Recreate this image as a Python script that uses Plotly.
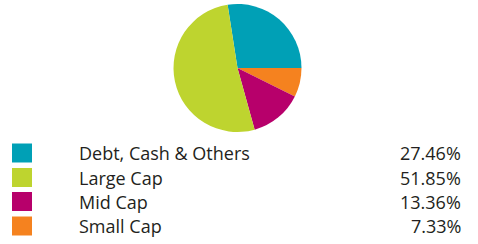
import plotly.graph_objects as go

categories = ["Debt, Cash & Others", "Large Cap", "Mid Cap", "Small Cap"]
values = [27.46, 51.85, 13.36, 7.33]
colors = ["#00A0B6", "#BED42F", "#B7006B", "#F5821F"]
value_labels = ["27.46%", "51.85%", "13.36%", "7.33%"]

# pie drawing order (clockwise from top)
pie_order = [0, 3, 2, 1]

W, H = 478, 244
fig = go.Figure()
fig.add_trace(go.Pie(
    labels=[categories[i] for i in pie_order],
    values=[values[i] for i in pie_order],
    marker=dict(colors=[colors[i] for i in pie_order], line=dict(width=0)),
    sort=False,
    direction="clockwise",
    rotation=-8.9,
    textinfo="none",
    hoverinfo="label+percent",
    domain=dict(x=[173.5 / W, 301.5 / W], y=[1 - 132 / H, 1 - 4 / H]),
    showlegend=False,
))

row_y = [153, 177.5, 201.5, 226]
font = dict(family="Open Sans", size=18, color="#231F20")
for i, cat in enumerate(categories):
    yc = 1 - row_y[i] / H
    fig.add_shape(type="rect", xref="paper", yref="paper",
                  x0=12 / W, x1=32 / W,
                  y0=1 - (row_y[i] + 9.5) / H, y1=1 - (row_y[i] - 9.5) / H,
                  fillcolor=colors[i], line=dict(width=0))
    fig.add_annotation(x=77 / W, y=yc, xref="paper", yref="paper", text=cat,
                       showarrow=False, xanchor="left", yanchor="middle", font=font)
    fig.add_annotation(x=463 / W, y=yc, xref="paper", yref="paper", text=value_labels[i],
                       showarrow=False, xanchor="right", yanchor="middle", font=font)

fig.update_layout(width=W, height=H, margin=dict(l=0, r=0, t=0, b=0),
                  paper_bgcolor="white", plot_bgcolor="white")
fig.write_html("out.html")
